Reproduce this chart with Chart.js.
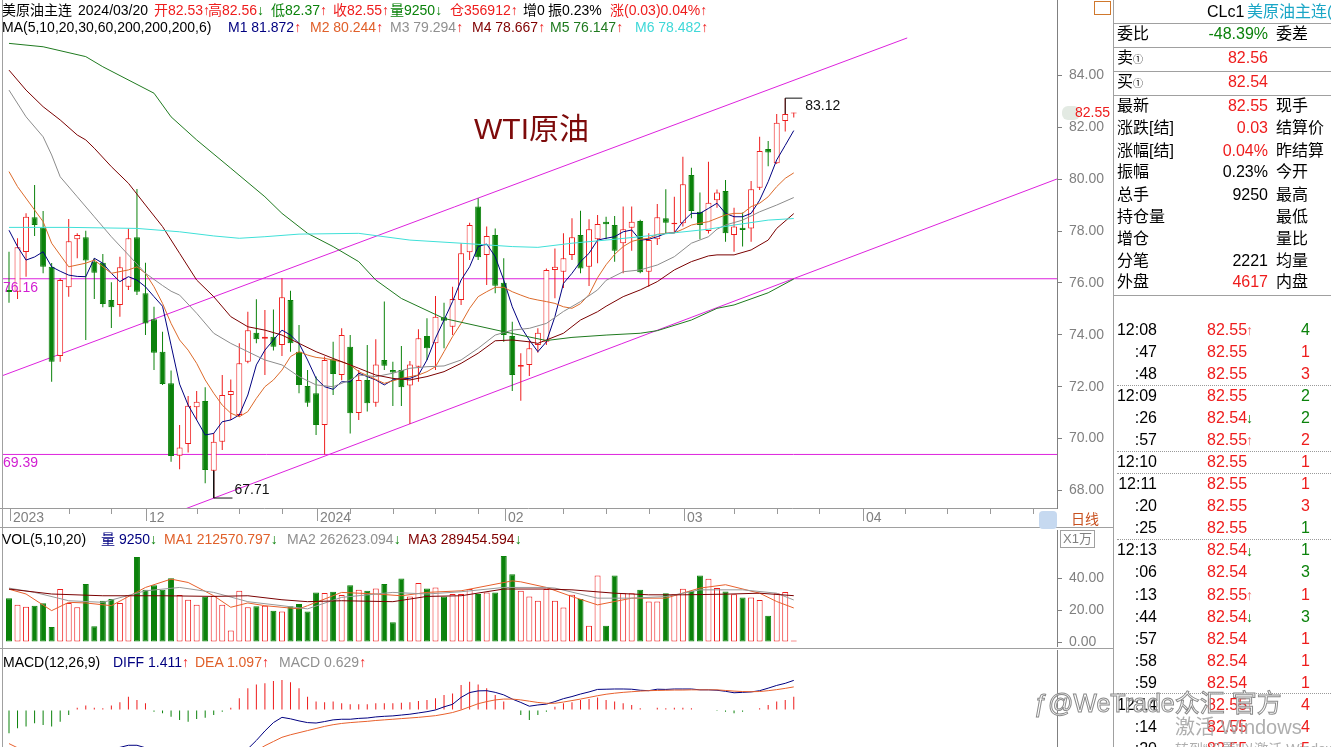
<!DOCTYPE html>
<html lang="zh-CN">
<head>
<meta charset="UTF-8">
<title>美原油主连 日线</title>
<style>
  html, body { margin: 0; padding: 0; background: #fff; }
  #wrap { position: relative; width: 1331px; height: 747px; overflow: hidden; background: #fff;
          font-family: "Liberation Sans", Arial, "Noto Sans CJK SC", sans-serif; }
  #wrap canvas { position: absolute; left: 0; }
  .t { position: absolute; white-space: nowrap; }
  .hl { position: absolute; height: 1px; background: #a0a0a0; }
  .vl { position: absolute; width: 1px; background: #a0a0a0; }
  .dot { position: absolute; height: 0; border-top: 1px dotted #9a9a9a; }
</style>
</head>
<body>
<div id="wrap">
  <canvas id="main" width="1113" height="528" style="top:0"></canvas>
  <canvas id="vol" width="1113" height="120" style="top:528px"></canvas>
  <canvas id="macd" width="1113" height="99" style="top:648px"></canvas>
</div>
<script src="https://cdn.jsdelivr.net/npm/chart.js"></script>
<script>
const FONT = '"Liberation Sans", Arial, "Noto Sans CJK SC", sans-serif';
Chart.defaults.font.family = FONT;
Chart.defaults.animation = false;

const RED = '#ee1c1c', GREEN = '#0b820b', AXIS = '#808080';

// ---- daily candles, 2023/11/09 .. 2024/03/20 ----
const dates = ['11/09','11/10','11/13','11/14','11/15','11/16','11/17','11/20','11/21','11/22',
  '11/23','11/24','11/27','11/28','11/29','11/30','12/01','12/04','12/05','12/06',
  '12/07','12/08','12/11','12/12','12/13','12/14','12/15','12/18','12/19','12/20',
  '12/21','12/22','12/26','12/27','12/28','12/29','01/02','01/03','01/04','01/05',
  '01/08','01/09','01/10','01/11','01/12','01/15','01/16','01/17','01/18','01/19',
  '01/22','01/23','01/24','01/25','01/26','01/29','01/30','01/31','02/01','02/02',
  '02/05','02/06','02/07','02/08','02/09','02/12','02/13','02/14','02/15','02/16',
  '02/19','02/20','02/21','02/22','02/23','02/26','02/27','02/28','02/29','03/01',
  '03/04','03/05','03/06','03/07','03/08','03/11','03/12','03/13','03/14','03/15',
  '03/18','03/19','03/20'];

const open = [75.73,75.66,77.19,78.53,78.14,76.62,73.18,75.83,77.68,77.76,
  76.82,76.78,75.34,75.15,75.85,77.76,75.60,74.60,73.35,72.13,
  69.34,69.79,71.21,71.45,68.76,69.88,71.68,70.91,72.96,74.08,
  73.85,73.93,73.61,75.34,73.35,72.03,71.75,70.52,73.06,72.45,
  73.54,70.99,72.26,71.38,73.03,72.64,72.64,72.05,72.77,73.95,
  73.67,74.68,74.31,75.34,77.18,78.94,77.08,77.85,76.01,73.95,
  72.77,72.84,73.61,73.73,76.50,76.43,77.08,77.85,76.62,77.68,
  78.36,78.23,77.53,78.13,78.39,76.43,77.68,78.49,78.26,78.30,
  80.16,78.74,78.00,79.19,79.54,77.85,78.13,78.10,79.67,81.16,
  80.61,82.24,82.53];
const high = [77.20,77.72,78.68,79.77,78.77,76.77,76.18,78.46,77.91,78.01,
  76.95,77.11,76.03,77.01,78.10,79.62,76.78,75.08,74.12,72.62,
  70.52,71.64,71.83,71.98,70.22,72.45,72.28,73.67,74.89,75.37,
  74.96,74.98,76.18,75.70,74.38,72.64,72.39,73.16,73.73,74.25,
  73.99,72.64,73.61,73.83,75.28,72.96,73.57,72.99,74.21,74.64,
  75.50,75.24,75.85,77.53,78.32,79.26,78.17,78.10,76.95,74.50,
  73.29,73.77,74.25,76.56,77.33,77.91,78.49,78.78,78.45,78.62,
  78.55,78.58,78.94,78.94,78.43,77.91,79.04,79.61,79.32,80.86,
  80.44,79.48,80.67,79.60,79.97,78.90,78.71,79.93,81.63,81.47,
  82.51,83.12,82.56];
const low = [75.24,75.38,76.24,77.81,76.37,72.19,72.96,75.47,76.95,73.80,
  75.38,75.06,74.26,74.70,75.73,75.53,73.99,72.64,72.07,69.11,
  68.82,69.46,70.72,68.28,67.71,69.56,70.72,70.84,72.90,73.67,
  72.45,73.40,73.18,73.35,71.75,71.23,70.14,69.39,71.68,72.25,
  70.20,70.72,71.04,71.23,72.64,71.26,71.26,70.56,72.19,73.03,
  72.64,73.48,73.99,75.15,76.88,76.88,75.92,75.60,73.73,71.83,
  71.46,72.41,73.31,73.61,75.41,75.80,76.88,76.37,75.88,76.76,
  77.68,76.82,76.37,77.24,76.37,75.85,77.46,77.88,77.91,78.17,
  78.49,77.68,77.90,78.90,77.59,77.20,77.40,77.59,79.58,80.50,
  80.58,81.83,82.37];
const close = [75.65,77.37,78.55,78.23,76.62,72.96,76.11,77.61,77.85,76.86,
  76.39,75.19,75.06,76.60,77.72,75.66,74.44,73.31,72.10,69.33,
  69.66,71.27,71.42,68.79,69.88,71.68,71.83,72.90,74.18,73.83,
  73.93,73.54,75.45,73.67,72.07,71.38,70.52,73.03,72.49,73.99,
  70.98,72.26,71.36,72.86,72.81,72.55,71.98,72.86,73.87,73.48,
  74.70,74.54,75.38,77.14,78.23,76.99,77.81,75.89,73.99,72.45,
  72.84,73.48,74.08,76.50,76.62,76.95,77.76,76.56,78.07,78.27,
  78.26,77.24,78.07,78.36,76.41,77.65,78.53,78.32,78.32,79.80,
  78.77,78.23,79.09,79.48,77.91,78.17,78.04,79.61,81.08,81.03,
  82.17,82.51,82.55];

const ma1 = [78.03,77.40,76.88,77.00,77.20,76.62,76.45,76.30,76.25,76.24,
  76.95,76.76,76.37,76.05,76.24,76.11,75.85,75.47,75.10,73.60,
  72.10,71.29,70.72,70.14,70.20,70.65,70.72,70.91,71.68,72.84,
  73.41,73.80,74.18,73.99,73.67,73.03,72.32,72.00,71.90,72.19,
  72.19,72.52,72.39,72.26,72.07,72.26,72.32,72.32,72.45,73.03,
  73.87,74.57,75.28,76.11,76.62,77.40,77.50,77.01,76.11,75.08,
  74.31,73.80,73.35,73.73,74.70,75.98,76.37,76.82,77.14,77.65,
  77.72,77.78,77.97,78.04,77.65,77.68,77.78,77.91,77.93,78.36,
  78.68,78.68,78.87,79.07,78.68,78.55,78.55,78.68,79.19,79.90,
  80.74,81.30,81.87];
const ma2 = [[0,80.29],[1,79.71],[3,78.81],[4,78.36],[5,77.53],[7,76.62],[9,76.76],[10,76.88],[12,76.37],[14,76.50],
  [15,76.62],[16,76.37],[17,75.85],[18,75.21],[19,74.44],[20,73.80],[21,73.41],[22,72.90],[23,72.26],[24,71.75],
  [25,71.29],[26,70.98],[27,70.84],[28,71.04],[29,71.55],[30,72.00],[31,72.26],[32,72.64],[33,73.16],[34,73.35],
  [35,73.22],[36,73.13],[37,73.09],[38,73.03],[39,72.96],[40,72.84],[41,72.58],[44,72.13],[46,72.32],[48,72.45],
  [49,72.58],[50,72.77],[51,73.35],[52,73.93],[53,74.44],[54,75.02],[55,75.47],[56,75.66],[57,75.83],[58,75.83],
  [59,75.66],[60,75.53],[61,75.41],[62,75.34],[63,75.28],[64,75.21],[65,75.08],[66,75.02],[67,75.20],[68,75.55],
  [69,76.20],[70,76.70],[71,77.10],[72,77.40],[73,77.60],[74,77.68],[75,77.72],[76,77.87],[77,77.91],[78,77.93],
  [79,78.07],[80,78.23],[81,78.30],[82,78.36],[83,78.49],[84,78.62],[85,78.68],[86,78.68],[87,78.94],[88,79.07],
  [89,79.32],[90,79.71],[91,80.03],[92,80.24]];
const ma3 = [[0,83.43],[2,82.40],[4,81.63],[5,80.93],[6,80.09],[8,79.32],[10,78.55],[12,77.78],[14,77.08],[16,76.37],
  [18,75.90],[19,75.68],[20,75.53],[22,74.83],[24,74.06],[26,73.67],[28,73.35],[30,73.03],[32,72.84],[34,72.39],
  [36,72.07],[38,72.00],[40,72.26],[41,72.45],[43,72.39],[45,72.52],[47,72.71],[49,72.77],[51,72.80],[53,73.03],
  [55,73.48],[57,73.99],[59,74.18],[61,74.25],[63,74.44],[65,74.90],[67,75.28],[69,75.73],[70,76.10],[72,76.43],
  [74,76.50],[76,76.69],[78,77.01],[80,77.53],[82,77.78],[83,78.07],[84,78.23],[86,78.42],[88,78.74],[90,79.00],[92,79.29]];
const ma4 = [[0,84.20],[2,83.43],[4,82.79],[6,82.28],[8,81.70],[9,81.51],[10,81.19],[12,80.48],[14,79.84],[16,79.00],
  [18,78.17],[20,77.14],[22,76.11],[24,75.47],[26,74.70],[28,74.31],[30,74.18],[32,73.99],[34,73.67],[36,73.35],
  [38,73.09],[40,72.84],[41,72.71],[43,72.45],[45,72.32],[47,72.26],[49,72.39],[51,72.58],[53,72.90],[55,73.29],
  [57,73.77],[59,73.80],[61,73.73],[62,73.67],[63,73.80],[65,74.06],[67,74.57],[69,74.89],[70,75.10],[72,75.47],
  [74,75.73],[76,76.05],[78,76.50],[80,76.82],[82,77.04],[83,77.08],[85,77.08],[87,77.27],[89,77.65],[90,78.10],[92,78.67]];
const ma5 = [[0,85.23],[4,85.10],[9,84.72],[11,84.33],[17,83.31],[19,82.40],[22,81.51],[26,80.42],[30,79.32],[32,78.68],
  [35,77.91],[38,77.40],[41,76.82],[43,76.11],[46,75.40],[51,74.63],[58,74.12],[63,73.78],[66,73.90],[70,73.99],
  [74,74.06],[76,74.16],[80,74.57],[83,75.02],[85,75.15],[89,75.62],[92,76.15]];
const ma6 = [[0,78.14],[7,78.14],[15,78.10],[20,77.97],[24,77.81],[27,77.72],[30,77.78],[34,77.88],[41,77.91],[47,77.65],
  [53,77.53],[59,77.40],[62,77.37],[66,77.53],[70,77.65],[74,77.78],[78,77.93],[82,78.07],[85,78.23],[89,78.42],[92,78.48]];

// volume, in 10k lots
const vol = [27.3,23.3,22.1,22.7,24.2,9.3,33.1,24.4,21.7,36.2,
  9.9,25.8,26.9,24.4,29.3,53.1,32.6,35.5,32.6,39.9,
  29.3,26.4,23.3,28.3,28.9,23.3,7.2,32.0,21.7,22.3,
  22.7,19.6,19.0,22.3,23.8,19.0,31.0,30.6,31.4,29.3,
  35.5,32.6,32.0,33.5,36.2,12.4,39.7,28.5,36.8,33.5,
  34.1,28.5,30.0,30.0,33.1,30.0,31.0,31.0,53.7,42.4,
  32.0,28.5,25.8,33.1,25.8,21.5,29.5,26.9,10.1,41.5,
  10.1,41.5,30.5,30.5,32.6,25.3,25.3,30.5,29.9,33.3,
  32.0,41.5,39.6,33.7,31.6,29.9,27.8,27.8,26.3,16.4,
  30.5,31.2,0.925];
const volMa1 = [[0,33],[2,30],[5,19.6],[7,24.8],[9,24.4],[12,22.7],[16,34.1],[19,39.3],[21,37.2],[24,28.9],
  [26,21.7],[28,24.4],[30,22.7],[34,20.7],[35,22.7],[39,31],[43,30],[46,28.9],[49,31],[53,32],
  [59,38.2],[60,37.6],[63,34.1],[66,28.4],[69,23.2],[73,27.4],[77,27.4],[81,33.7],[84,35.8],[88,30.5],[90,25.3],[92,21.26]];
const volMa2 = [[0,33.7],[3,31],[7,25.8],[11,24.8],[16,32],[20,34.1],[24,31],[28,25.2],[32,22.7],[35,20.7],
  [39,27.9],[45,31],[49,30],[53,31.4],[58,34.1],[63,34.1],[64,33.7],[69,27.4],[73,27.4],[77,28.4],
  [81,32.6],[86,32.6],[90,30.5],[92,26.26]];
const volMa3 = [[0,33.1],[5,30],[11,28.9],[18,28.9],[24,28.5],[28,28.9],[32,26.4],[35,25.2],[39,25.8],[45,25.2],
  [49,28.5],[53,28.9],[58,33.1],[63,33.1],[66,32.6],[71,30.5],[75,29.5],[79,29.5],[84,29.9],[88,30.5],[92,28.95]];

// MACD(12,26,9)
const macdBar = [-1.11,-0.87,-0.79,-0.63,-0.71,-0.79,-0.56,-0.24,0.11,0.21,
  0.11,0.08,0.21,0.37,0.63,0.48,0.32,-0.08,-0.16,-0.32,
  -0.48,-0.56,-0.43,-0.37,-0.24,-0.08,0.11,0.56,1.03,1.22,
  1.27,1.38,1.43,1.32,1.03,0.63,0.40,0.37,0.40,0.32,
  0.27,0.27,0.27,0.32,0.32,0.32,0.35,0.37,0.43,0.48,
  0.56,0.71,0.79,1.19,1.35,1.22,1.03,0.71,0.40,0.0,
  -0.24,-0.48,-0.24,-0.08,0.16,0.32,0.37,0.48,0.52,0.59,
  0.48,0.40,0.32,0.24,0.08,0.0,0.11,0.08,0.11,0.11,
  0.08,0.0,0.0,-0.05,-0.08,-0.16,-0.08,-0.02,0.08,0.24,
  0.40,0.48,0.63];
const diff = [-1.95,-2.0,-2.1,-2.15,-2.2,-2.3,-2.25,-2.15,-2.0,-1.95,
  -1.95,-1.9,-1.85,-1.78,-1.68,-1.68,-1.8,-1.95,-2.1,-2.3,
  -2.45,-2.55,-2.55,-2.5,-2.45,-2.38,-2.3,-2.1,-1.85,-1.45,
  -1.0,-0.6,-0.35,-0.42,-0.52,-0.6,-0.62,-0.55,-0.47,-0.44,
  -0.44,-0.4,-0.38,-0.33,-0.3,-0.28,-0.24,-0.2,-0.14,-0.08,
  0.0,0.15,0.27,0.60,0.83,0.91,0.92,0.84,0.72,0.52,
  0.36,0.18,0.24,0.28,0.40,0.54,0.64,0.76,0.86,0.98,
  0.99,1.0,1.0,0.99,0.94,0.92,0.99,0.98,1.0,1.0,
  1.0,0.96,0.96,0.94,0.89,0.82,0.84,0.86,0.92,1.04,
  1.17,1.27,1.41];
const dea = [-1.6,-1.8,-1.9,-2.0,-2.05,-2.1,-2.15,-2.15,-2.12,-2.1,
  -2.08,-2.05,-2.02,-1.98,-1.92,-1.9,-1.92,-1.95,-2.0,-2.1,
  -2.2,-2.3,-2.35,-2.38,-2.38,-2.36,-2.35,-2.3,-2.15,-1.95,
  -1.7,-1.5,-1.3,-1.18,-1.08,-0.98,-0.88,-0.78,-0.7,-0.64,
  -0.6,-0.57,-0.54,-0.5,-0.47,-0.44,-0.41,-0.38,-0.35,-0.31,
  -0.27,-0.2,-0.12,0.0,0.15,0.3,0.4,0.48,0.52,0.52,
  0.48,0.42,0.36,0.32,0.32,0.38,0.45,0.52,0.6,0.68,
  0.75,0.8,0.84,0.87,0.9,0.92,0.93,0.94,0.95,0.95,
  0.96,0.96,0.96,0.96,0.93,0.9,0.88,0.87,0.88,0.92,
  0.97,1.03,1.10];

// axes and drawn objects
const priceTicks = [68,70,72,74,76,78,80,82,84];
const volTicks = [0,20,40];
const monthLabels = [[0,'2023'],[16,'12'],[36,'2024'],[58,'02'],[79,'03'],[100,'04']];
const weekTicks = [7,12,22,27,32,40,45,50,55,65,70,75,85,90,95,105,110,115,120];
const hLines = [76.16, 69.39];
const trendLines = [[[-1.06,72.39],[105.3,85.44]], [[18,66.96],[122.9,80.01]]];
const highMark = [91, 83.12], lowMark = [24, 67.71];

const X_MIN = -0.703, X_MAX = 122.86;
const idx = close.map((_, i) => i);
const up = idx.map(i => close[i] >= open[i]);
const pts = arr => arr.map(([x, y]) => ({x, y}));

function lineDs(data, color, order) {
  return { type: 'line', data, borderColor: color, borderWidth: 1, pointRadius: 0,
           tension: 0, fill: false, order };
}
function xAxis() {
  return { type: 'linear', min: X_MIN, max: X_MAX, offset: false, display: false };
}
function yAxis(min, max, ticks, showLabels) {
  return {
    type: 'linear', position: 'right', min, max,
    afterBuildTicks: s => { s.ticks = ticks.map(v => ({value: v})); },
    afterFit: s => { s.width = 56; s.paddingTop = 0; s.paddingBottom = 0; },
    ticks: { display: showLabels, color: AXIS, font: {size: 14}, padding: 7,
             callback: v => Number(v).toFixed(2) },
    grid: { drawOnChartArea: false, drawTicks: showLabels, tickLength: 5, color: AXIS },
    border: { color: AXIS }
  };
}
const baseOpts = { responsive: false, animation: false, events: [],
  plugins: { legend: {display: false}, tooltip: {enabled: false} } };

const mainMarks = {
  id: 'mainMarks',
  afterDatasetsDraw(chart) {
    const {ctx, scales: {x, y}} = chart;
    ctx.save();
    ctx.font = '14px ' + FONT;
    ctx.textBaseline = 'middle';
    ctx.fillStyle = '#111';
    ctx.fillText(highMark[1].toFixed(2), x.getPixelForValue(highMark[0] + 2) + 3, y.getPixelForValue(highMark[1]) + 8);
    ctx.fillText(lowMark[1].toFixed(2), x.getPixelForValue(lowMark[0] + 2.2) + 2, y.getPixelForValue(lowMark[1]) - 8);
    ctx.fillStyle = '#d21fd2';
    hLines.forEach(v => ctx.fillText(v.toFixed(2), 3, y.getPixelForValue(v) + 9));
    ctx.restore();
  },
  afterDraw(chart) {
    const {ctx, chartArea: a, scales: {x, y}} = chart;
    ctx.save();
    // date row
    const top = a.bottom;
    ctx.strokeStyle = '#9a9a9a';
    ctx.lineWidth = 1;
    ctx.beginPath();
    ctx.moveTo(0, top + 0.5); ctx.lineTo(a.right, top + 0.5);
    weekTicks.forEach(i => {
      const px = Math.round(x.getPixelForValue(i)) + 0.5;
      ctx.moveTo(px, top + 1); ctx.lineTo(px, top + 6);
    });
    monthLabels.forEach(([i]) => {
      const px = Math.round(x.getPixelForValue(i)) + 1.5;
      ctx.moveTo(px, top + 1); ctx.lineTo(px, top + 13);
    });
    ctx.stroke();
    ctx.font = '14px ' + FONT;
    ctx.fillStyle = AXIS;
    ctx.textBaseline = 'middle';
    monthLabels.forEach(([i, t]) => ctx.fillText(t, Math.round(x.getPixelForValue(i)) + 4, top + 10));
    // last price on the axis
    const last = close[close.length - 1];
    const py = y.getPixelForValue(last);
    ctx.fillStyle = '#e3eae3';
    ctx.beginPath();
    ctx.roundRect(a.right + 5, py - 7, 18, 14, 6);
    ctx.fill();
    ctx.fillStyle = RED;
    ctx.fillText(last.toFixed(2), a.right + 18, py);
    ctx.restore();
  }
};

new Chart(document.getElementById('main'), {
  type: 'bar',
  data: { datasets: [
    { data: idx.map(i => ({x: i, y: [open[i], close[i]]})),
      backgroundColor: idx.map(i => up[i] ? '#ffffff' : GREEN),
      borderColor: idx.map(i => up[i] ? RED : GREEN),
      borderWidth: 1, borderSkipped: false, barThickness: 6, minBarLength: 1,
      grouped: false, inflateAmount: 0, order: 4 },
    { data: idx.map(i => ({x: i, y: [low[i], high[i]]})),
      backgroundColor: idx.map(i => up[i] ? RED : GREEN),
      barThickness: 1, grouped: false, inflateAmount: 0, order: 5 },
    lineDs(pts(ma6), '#3fe0d8', 3),
    lineDs(pts(ma5), '#1f7a1f', 3),
    lineDs(pts(ma4), '#7a0000', 3),
    lineDs(pts(ma3), '#8c8c8c', 3),
    lineDs(pts(ma2), '#dc6a2a', 3),
    lineDs(ma1.map((v, i) => ({x: i, y: v})), '#000080', 3),
    ...hLines.map(v => lineDs([{x: X_MIN, y: v}, {x: X_MAX, y: v}], '#dd22dd', 6)),
    ...trendLines.map(l => lineDs(pts(l), '#dd22dd', 6)),
    lineDs([{x: highMark[0], y: close[highMark[0]]}, {x: highMark[0], y: highMark[1]}, {x: highMark[0] + 2, y: highMark[1]}], '#111', 1),
    lineDs([{x: lowMark[0], y: open[lowMark[0]]}, {x: lowMark[0], y: lowMark[1]}, {x: lowMark[0] + 2.2, y: lowMark[1]}], '#111', 1)
  ]},
  options: { ...baseOpts,
    layout: { padding: {left: 3, right: 0, top: 0, bottom: 20} },
    scales: { x: xAxis(), y: yAxis(67.326, 86.902, priceTicks, true) } },
  plugins: [mainMarks]
});

new Chart(document.getElementById('vol'), {
  type: 'bar',
  data: { datasets: [
    { data: idx.map(i => ({x: i, y: vol[i]})),
      backgroundColor: idx.map(i => up[i] ? '#ffffff' : GREEN),
      borderColor: idx.map(i => up[i] ? RED : GREEN),
      borderWidth: 1, borderSkipped: false, barThickness: 6, grouped: false, inflateAmount: 0, order: 2 },
    lineDs(pts(volMa3), '#7a0000', 1),
    lineDs(pts(volMa2), '#999999', 1),
    lineDs(pts(volMa1), '#e8602c', 1)
  ]},
  options: { ...baseOpts,
    layout: { padding: {left: 3, right: 0, top: 2, bottom: 2} },
    scales: { x: xAxis(), y: yAxis(-2.5, 70, volTicks, true) } }
});

new Chart(document.getElementById('macd'), {
  type: 'bar',
  data: { datasets: [
    { data: idx.map(i => ({x: i, y: macdBar[i]})),
      backgroundColor: idx.map(i => macdBar[i] >= 0 ? RED : GREEN),
      barThickness: 1, grouped: false, inflateAmount: 0, order: 2 },
    lineDs(dea.map((v, i) => ({x: i, y: v})), '#e8602c', 1),
    lineDs(diff.map((v, i) => ({x: i, y: v})), '#000080', 1)
  ]},
  options: { ...baseOpts,
    layout: { padding: {left: 3, right: 0, top: 2, bottom: 0} },
    scales: { x: xAxis(), y: yAxis(-1.762, 2.857, [0], false) } }
});

// ---- text overlays ----
const wrap = document.getElementById('wrap');
function put(text, x, cy, color, size, align, html) {
  const d = document.createElement('div');
  d.className = 't';
  if (html) d.innerHTML = text; else d.textContent = text;
  d.style.fontSize = size + 'px';
  d.style.lineHeight = Math.round(size * 1.2) + 'px';
  d.style.top = (cy - size * 0.6) + 'px';
  d.style.color = color;
  if (align === 'right') { d.style.left = (x - 300) + 'px'; d.style.width = '300px'; d.style.textAlign = 'right'; }
  else d.style.left = x + 'px';
  wrap.appendChild(d);
  return d;
}
function box(cls, left, top, w, h) {
  const d = document.createElement('div');
  d.className = cls;
  d.style.left = left + 'px'; d.style.top = top + 'px';
  if (w != null) d.style.width = w + 'px';
  if (h != null) d.style.height = h + 'px';
  wrap.appendChild(d);
  return d;
}

box('vl', 2, 0, null, 747);
box('hl', 0, 527, 1113);
box('hl', 0, 648, 1113);
box('vl', 1113, 0, null, 747);

const ARW = {'↑': RED, '↓': GREEN};
function header(items, cy) {
  items.forEach(([t, x, c]) => {
    const last = t.slice(-1);
    if (ARW[last]) {
      const d = put(t.slice(0, -1), x, cy, c, 14);
      const s = document.createElement('span');
      s.textContent = last; s.style.color = ARW[last];
      d.appendChild(s);
    } else put(t, x, cy, c, 14);
  });
}
header([['美原油主连', 2, '#000'], ['2024/03/20', 78, '#000'], ['开82.53↑', 154, RED], ['高82.56↓', 208, RED],
  ['低82.37↑', 271, GREEN], ['收82.55↑', 333, RED], ['量9250↓', 390, GREEN], ['仓356912↑', 450, RED],
  ['增0', 523, '#000'], ['振0.23%', 548, '#000'], ['涨(0.03)0.04%↑', 610, RED]], 10);
header([['MA(5,10,20,30,60,200,200,200,6)', 2, '#000'], ['M1 81.872↑', 228, '#000080'], ['M2 80.244↑', 310, '#e0602a'],
  ['M3 79.294↑', 390, '#909090'], ['M4 78.667↑', 472, '#800000'], ['M5 76.147↑', 550, '#1f7a1f'],
  ['M6 78.482↑', 635, '#3fd8d8']], 27);
header([['VOL(5,10,20)', 2, '#000'], ['量 9250↓', 101, '#000080'], ['MA1 212570.797↓', 164, '#e0602a'],
  ['MA2 262623.094↓', 287, '#909090'], ['MA3 289454.594↓', 408, '#800000']], 539);
header([['MACD(12,26,9)', 3, '#000'], ['DIFF 1.411↑', 113, '#000080'], ['DEA 1.097↑', 195, '#e0602a'],
  ['MACD 0.629↑', 279, '#909090']], 662);

put('WTI原油', 474, 129, '#7d0b0b', 30);

// axis furniture
const thumb = box('t', 1039, 511, 18, 18);
thumb.style.background = '#c6d9f0'; thumb.style.borderRadius = '4px';
put('日线', 1071, 519, '#c8501e', 14);
const xw = put('X1万', 1060, 538, '#808080', 13);
xw.style.border = '1px solid #a0a0a0'; xw.style.padding = '0 2px';
const icon = box('t', 1094, 1, 15, 12);
icon.style.border = '1px solid #d0782c';

// ---- quote panel ----
const quoteRows = [
  ['委比', '-48.39%', '委差', GREEN],
  ['卖<span style="font-size:10px">①</span>', '82.56', '', RED],
  ['买<span style="font-size:10px">①</span>', '82.54', '', RED],
  ['最新', '82.55', '现手', RED],
  ['涨跌[结]', '0.03', '结算价', RED],
  ['涨幅[结]', '0.04%', '昨结算', RED],
  ['振幅', '0.23%', '今开', '#000'],
  ['总手', '9250', '最高', '#000'],
  ['持仓量', '', '最低', '#000'],
  ['增仓', '', '量比', '#000'],
  ['分笔', '2221', '均量', '#000'],
  ['外盘', '4617', '内盘', RED]
];
const quoteY = [34, 58, 82, 106, 128, 151, 172, 195, 217, 239, 261, 282];
put('CLc1', 1207, 12, '#000', 16);
put('美原油主连(', 1247, 12, '#1aa6c6', 16);
[23, 47, 71, 95, 295].forEach(yy => box('hl', 1114, yy, 217));
quoteRows.forEach((r, k) => {
  put(r[0], 1117, quoteY[k], '#000', 16, null, true);
  if (r[1]) put(r[1], 1268, quoteY[k], r[3], 16, 'right');
  if (r[2]) put(r[2], 1276, quoteY[k], '#000', 16);
});

// ---- tick list ----
const tickTime = ['12:08', ':47', ':48', '12:09', ':26', ':57', '12:10', '12:11', ':20', ':25',
  '12:13', ':06', ':13', ':44', ':57', ':58', ':59', '12:14', ':14', ':20'];
const tickPrice = ['82.55', '82.55', '82.55', '82.55', '82.54', '82.55', '82.55', '82.55', '82.55', '82.55',
  '82.54', '82.54', '82.55', '82.54', '82.54', '82.54', '82.54', '82.55', '82.55', '82.55'];
const tickArrow = ['↑', '', '', '', '↓', '↑', '', '', '', '', '↓', '', '↑', '↓', '', '', '', '↑', '', ''];
const tickVol = [4, 1, 3, 2, 2, 2, 1, 1, 3, 1, 1, 3, 1, 3, 1, 1, 1, 4, 4, 5];
const tickBuy = [0, 1, 1, 0, 0, 1, 1, 1, 1, 0, 0, 0, 1, 0, 1, 1, 1, 1, 1, 1];
const tickSepBefore = [3, 6, 7, 10, 17];
tickTime.forEach((t, k) => {
  const cy = 329.3 + 22.07 * k;
  put(t, 1157, cy, '#000', 16, 'right');
  put(tickPrice[k], 1207, cy, RED, 16);
  if (tickArrow[k]) put(tickArrow[k], 1246, cy + 1, tickArrow[k] === '↑' ? '#f07070' : GREEN, 14);
  put(String(tickVol[k]), 1310, cy, tickBuy[k] ? RED : GREEN, 16, 'right');
});
tickSepBefore.forEach(k => box('dot', 1117, Math.round(329.3 + 22.07 * k - 11), 214));

// ---- watermarks ----
const wm = put('ƒ@WeTrade众汇 官方', 1034, 703, 'rgba(255,255,255,0.75)', 25);
wm.style.webkitTextStroke = '1px #8a8a8a';
put('激活 Windows', 1175, 727, 'rgba(160,160,160,0.85)', 20);
put('转到“设置”以激活 Windows。', 1175, 749, 'rgba(160,160,160,0.85)', 14);
</script>
</body>
</html>
